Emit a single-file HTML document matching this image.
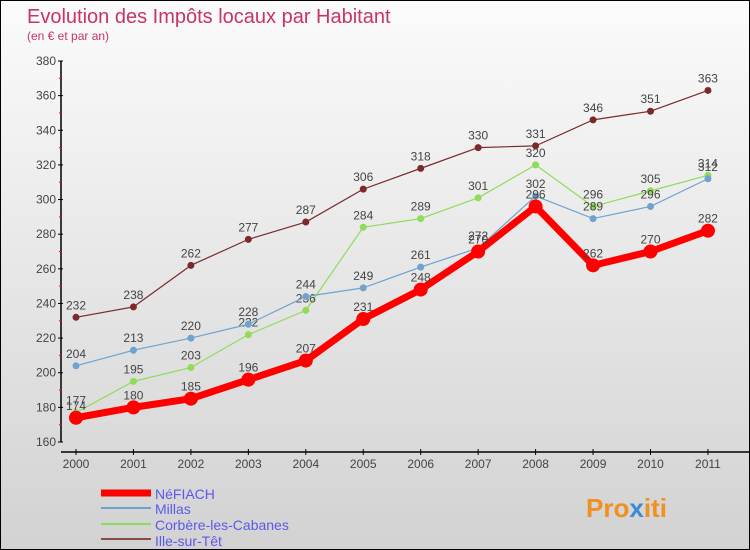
<!DOCTYPE html>
<html><head><meta charset="utf-8"><style>
body{margin:0}
#c{position:relative;width:748px;height:548px;border:1px solid #000;background:linear-gradient(#fbfbfb,#d2d2d2);font-family:"Liberation Sans",sans-serif;overflow:hidden}
</style></head><body>
<div id="c">
<svg id="s" width="748" height="548">
<text x="26" y="22" font-size="20" fill="#c8336a">Evolution des Impôts locaux par Habitant</text>
<text x="26" y="39" font-size="12" fill="#c8336a">(en € et par an)</text>
<g id="g"></g>
<g>
<line x1="100" y1="492" x2="150" y2="492" stroke="#f00" stroke-width="7"/>
<text x="154" y="498" font-size="14" fill="#5a5ae8">NéFIACH</text>
<line x1="100" y1="507" x2="150" y2="507" stroke="#6fa3cf" stroke-width="2"/>
<text x="154" y="513" font-size="14" fill="#5a5ae8">Millas</text>
<line x1="100" y1="523" x2="150" y2="523" stroke="#8fdc5a" stroke-width="2"/>
<text x="154" y="529" font-size="14" fill="#5a5ae8">Corbère-les-Cabanes</text>
<line x1="100" y1="538" x2="150" y2="538" stroke="#8a4a4a" stroke-width="2"/>
<text x="154" y="545" font-size="14" fill="#5a5ae8">Ille-sur-Têt</text>
</g>
<text x="585" y="516" font-size="26" font-weight="bold" fill="#f09020">Pro<tspan fill="#3a8ad8">x</tspan>iti</text>
</svg>
</div>
<script>
const years=[2000,2001,2002,2003,2004,2005,2006,2007,2008,2009,2010,2011];
const yTicks=[160,180,200,220,240,260,280,300,320,340,360,380];
const nefiach=[174,180,185,196,207,231,248,270,296,262,270,282];
const millas=[204,213,220,228,244,249,261,272,302,289,296,312];
const corbere=[177,195,203,222,236,284,289,301,320,296,305,314];
const ille=[232,238,262,277,287,306,318,330,331,346,351,363];
const NS="http://www.w3.org/2000/svg";
const g=document.getElementById('g');
function X(i){return 75+i*57.45;}
function Y(v){return 441-(v-160)*1.7318;}
function mk(t,a){const e=document.createElementNS(NS,t);for(const k in a)e.setAttribute(k,a[k]);g.appendChild(e);return e;}
let ax=mk('line',{x1:60,y1:60,x2:60,y2:441,stroke:'#000','stroke-width':1.5});


let bx=mk('line',{x1:60,y1:451,x2:748,y2:451,stroke:'#000','stroke-width':1.5});


yTicks.forEach((v,i)=>{
 mk('line',{x1:57,y1:Y(v),x2:62,y2:Y(v),stroke:'#000'});
 if(i<yTicks.length-1) mk('line',{x1:58,y1:Y(v+10),x2:61,y2:Y(v+10),stroke:'#f00'});
 const t=mk('text',{x:55,y:Y(v)+4,'font-size':12,fill:'#444','text-anchor':'end'});
 t.textContent=v;
 
 
});
years.forEach((y,i)=>{
 mk('line',{x1:X(i),y1:448,x2:X(i),y2:454,stroke:'#000'});
 const t=mk('text',{x:X(i),y:467,'font-size':12,fill:'#444','text-anchor':'middle'});
 t.textContent=y;
 
 
});
function series(d,col,w,r,name){
 const p=mk('polyline',{points:d.map((v,i)=>X(i)+','+Y(v)).join(' '),fill:'none',stroke:col,'stroke-width':w,'stroke-linejoin':'round'});
 
 
 d.forEach((v,i)=>{
  const c=mk('circle',{cx:X(i),cy:Y(v),r:r,fill:col});
  
  
  const t=mk('text',{x:X(i),y:Y(v)-8,'font-size':12,fill:'#444','text-anchor':'middle'});
  t.textContent=v;
  
  
 });
}
series(ille,'#7a2a2a',1.2,3.5,'ille');
series(corbere,'#8fdc5a',1.2,3.5,'corbere');
series(millas,'#6fa3cf',1.2,3.5,'millas');
series(nefiach,'#f00',7,7,'nefiach');
</script>
</body></html>
